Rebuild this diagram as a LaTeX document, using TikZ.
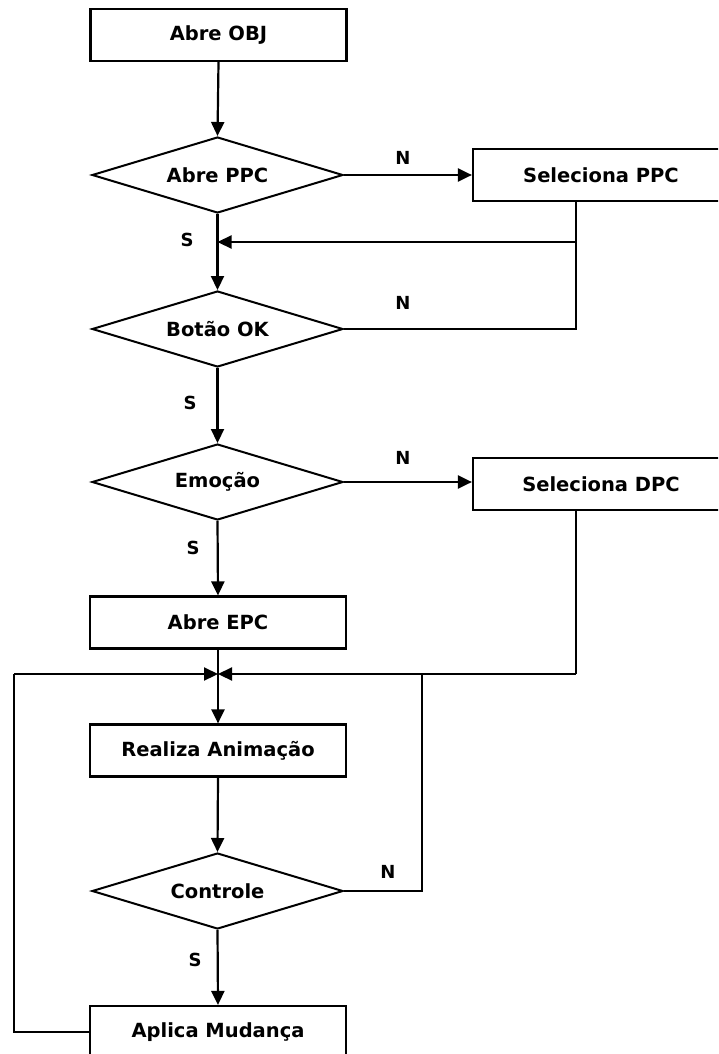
\documentclass[tikz,border=0pt]{standalone}
\usepackage{fontspec}
\setmainfont{DejaVu Sans}
\usetikzlibrary{shapes.geometric,arrows.meta}
\tikzset{
  every picture/.style={x=1pt,y=-1pt},
  stepbox/.style={draw,line width=2.2pt,rectangle,minimum width=256pt,minimum height=52pt,inner sep=0pt,
    font=\fontsize{19.5}{23}\selectfont\bfseries},
  decision/.style={draw,line width=2pt,diamond,aspect=3.3,minimum width=251pt,minimum height=76pt,inner sep=0pt,
    font=\fontsize{19.5}{23}\selectfont\bfseries},
  conn/.style={line width=2.2pt},
  arr/.style={conn,-{Triangle[length=14pt,width=13pt]}},
  lbl/.style={font=\fontsize{18}{20}\selectfont\bfseries,inner sep=0pt}
}
\begin{document}
\begin{tikzpicture}
\useasboundingbox (0,0) rectangle (718,1054);
\clip (0,0) rectangle (718,1054);
\fill[white] (0,0) rectangle (718,1054);

\node[stepbox] (obj) at (218.5,35) {Abre OBJ};
\node[decision] (ppc) at (217.5,175) {Abre PPC};
\node[stepbox] (selppc) at (601,175) {Seleciona PPC};
\node[decision] (ok) at (217.5,329) {Botão OK};
\node[decision] (emo) at (217.5,482) {Emoção};
\node[stepbox] (seldpc) at (601,484) {Seleciona DPC};
\node[stepbox] (epc) at (218,622.5) {Abre EPC};
\node[stepbox] (anim) at (218,750.5) {Realiza Animação};
\node[decision] (ctrl) at (217.5,891) {Controle};
\node[stepbox] (apl) at (218,1032) {Aplica Mudança};

\coordinate (r1) at (576,242);
\coordinate (j) at (218,674);
\coordinate (r2) at (576,674);
\coordinate (r3) at (422,674);
\coordinate (l1) at (14,674);

\draw[arr] (obj.south) -- (ppc.north);
\draw[arr] (ppc.east) -- (ppc.east -| selppc.west);
\draw[arr] (ppc.south) -- (ok.north);
\draw[conn] (selppc.south -| r1) -- (r1);
\draw[arr] (r1) -- (r1 -| ppc.south);
\draw[conn] (ok.east) -- (ok.east -| r1) -- (r1);
\draw[arr] (ok.south) -- (emo.north);
\draw[arr] (emo.east) -- (emo.east -| seldpc.west);
\draw[arr] (emo.south) -- (epc.north);
\draw[arr] (epc.south) -- (anim.north);
\draw[conn] (seldpc.south -| r2) -- (r2);
\draw[arr] (r2) -- (j);
\draw[conn] (ctrl.east) -- (ctrl.east -| r3) -- (r3);
\draw[arr] (anim.south) -- (ctrl.north);
\draw[arr] (ctrl.south) -- (apl.north);
\draw[conn] (apl.west) -- (apl.west -| l1) -- (l1);
\draw[arr] (l1) -- (j);

\node[lbl] (n1) at (403,158) {N};
\node[lbl] (s1) at (187,240) {S};
\node[lbl] (n2) at (403,303) {N};
\node[lbl] (s2) at (190,403) {S};
\node[lbl] (n3) at (403,458) {N};
\node[lbl] (s3) at (193,548) {S};
\node[lbl] (n4) at (388,872) {N};
\node[lbl] (s4) at (195,960) {S};
\end{tikzpicture}
\end{document}
